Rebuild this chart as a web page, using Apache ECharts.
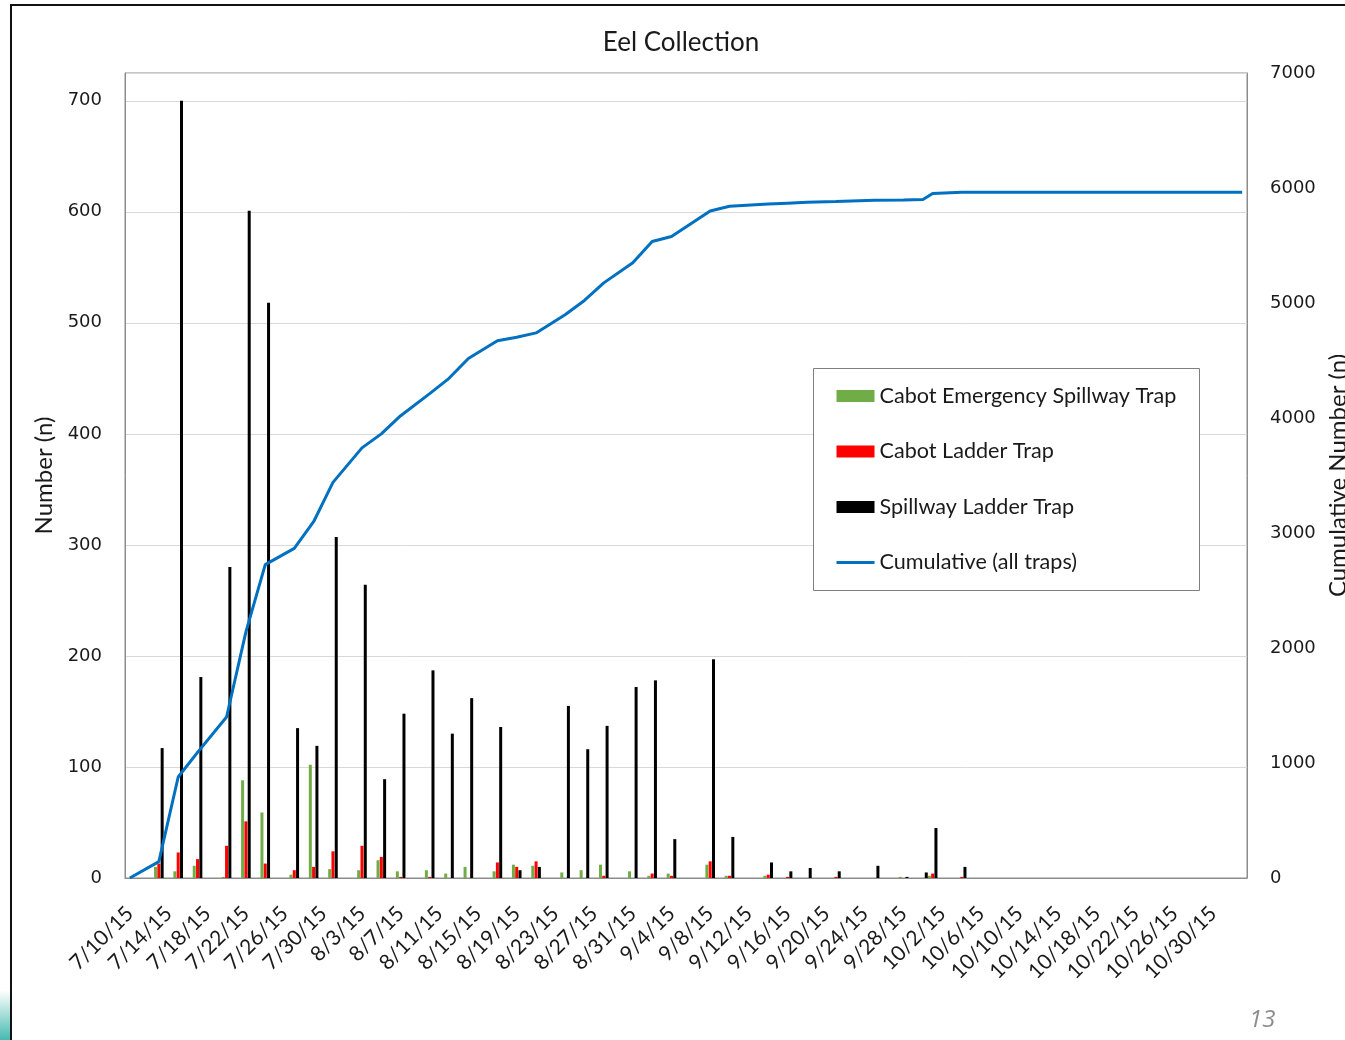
<!DOCTYPE html>
<html>
<head>
<meta charset="utf-8">
<script src="https://cdn.jsdelivr.net/npm/echarts@6/dist/echarts.min.js"></script>
<style>
html,body{margin:0;padding:0;background:#fff;}
#chart{width:1345px;height:1040px;}
</style>
</head>
<body>
<div id="chart"></div>
<script>
// ---- data ----
const axisStart = '2015-07-10';
const axisEnd = '2015-11-02';
const sampleDates = ['7/13/15','7/15/15','7/17/15','7/20/15','7/22/15','7/24/15','7/27/15','7/29/15','7/31/15','8/3/15','8/5/15','8/7/15','8/10/15','8/12/15','8/14/15','8/17/15','8/19/15','8/21/15','8/24/15','8/26/15','8/28/15','8/31/15','9/2/15','9/4/15','9/8/15','9/10/15','9/14/15','9/16/15','9/18/15','9/21/15','9/25/15','9/28/15','9/30/15','10/1/15','10/4/15'];
const emergencySpillway = [10,6,11,1,88,59,3,102,8,7,16,6,7,4,10,6,12,11,5,7,12,6,2,4,12,2,2,0,0,0,0,1,0,2,0];
const cabotLadder = [13,23,17,29,51,13,7,10,24,29,19,1,1,0,0,14,10,15,0,0,2,0,4,2,15,2,3,1,0,1,0,0,0,4,1];
const spillwayLadder = [117,700,181,280,601,518,135,119,307,264,89,148,187,130,162,136,7,10,155,116,137,172,178,35,197,37,14,6,9,6,11,1,5,45,10];
const cumulativeDates = ['7/10/15','7/13/15','7/15/15','7/17/15','7/20/15','7/22/15','7/24/15','7/27/15','7/29/15','7/31/15','8/3/15','8/5/15','8/7/15','8/10/15','8/12/15','8/14/15','8/17/15','8/19/15','8/21/15','8/24/15','8/26/15','8/28/15','8/31/15','9/2/15','9/4/15','9/8/15','9/10/15','9/14/15','9/16/15','9/18/15','9/21/15','9/25/15','9/28/15','9/30/15','10/1/15','10/4/15','11/2/15'];
const cumulative = [0,142,878,1092,1400,2140,2725,2866,3098,3440,3740,3862,4020,4212,4345,4518,4672,4702,4740,4898,5022,5175,5350,5535,5578,5800,5842,5860,5868,5876,5883,5893,5896,5900,5952,5963,5963];
const leftTicks = [0,100,200,300,400,500,600,700];
const rightTicks = [0,1000,2000,3000,4000,5000,6000,7000];

// axis categories: every day in the range
const categories = [];
(function(){
  const d = new Date(axisStart + 'T00:00:00');
  const e = new Date(axisEnd + 'T00:00:00');
  while (d <= e) {
    categories.push((d.getMonth()+1) + '/' + d.getDate() + '/' + String(d.getFullYear()).slice(2));
    d.setDate(d.getDate()+1);
  }
})();
const pair = (dates, vals) => dates.map((dt, i) => [dt, vals[i]]);

const chart = echarts.init(document.getElementById('chart'), null, {renderer:'canvas'});
const labelFont = 'Lato';
chart.setOption({
  animation: false,
  backgroundColor: '#fff',
  title: {
    text: 'Eel Collection', left: 676, top: 25, textAlign: 'center',
    textStyle: {fontFamily: labelFont, fontSize: 26, fontWeight: 'normal', color: '#1a1a1a'}
  },
  grid: {left: 125, right: 98, top: 73, bottom: 162, show: true, borderColor: '#8c8c8c', borderWidth: 1,
    containLabel: false, outerBoundsMode: 'none'},
  legend: {
    orient: 'vertical', left: 835, top: 384, padding: 0, itemGap: 31.5,
    itemWidth: 38, itemHeight: 12,
    textStyle: {fontFamily: labelFont, fontSize: 21.6, lineHeight: 24, color: '#1a1a1a'},
    data: [
      {name: 'Cabot Emergency Spillway Trap', icon: 'rect'},
      {name: 'Cabot Ladder Trap', icon: 'rect'},
      {name: 'Spillway Ladder Trap', icon: 'rect'},
      {name: 'Cumulative (all traps)', itemStyle: {opacity: 0, borderWidth: 0}, lineStyle: {width: 3, color: '#0070c0'}}
    ]
  },
  graphic: [
    {type: 'rect', z: 3, shape: {x: 813.5, y: 368.5, width: 386, height: 222}, style: {fill: '#fff', stroke: '#7f7f7f', lineWidth: 1}},
    {type: 'rect', z: 9, shape: {x: 0, y: 990, width: 10, height: 50},
      style: {fill: new echarts.graphic.LinearGradient(0, 0, 0, 1, [{offset: 0, color: 'rgba(80,190,180,0)'}, {offset: 1, color: '#45b9b0'}])}},
    {type: 'polyline', z: 10, shape: {points: [[11, 1040], [11, 5], [1345, 5]]}, style: {stroke: '#111', lineWidth: 2, fill: null}},
    {type: 'text', z: 10, left: 1249, top: 1008, style: {text: '13', font: 'italic 24px "Open Sans"', fill: '#8c8c8c'}}
  ],
  xAxis: {
    type: 'category', data: categories, boundaryGap: true,
    axisLine: {show: true, lineStyle: {color: '#8c8c8c'}},
    axisTick: {show: false},
    axisLabel: {interval: 3, rotate: 45, margin: 32, fontFamily: labelFont, fontSize: 21, color: '#1a1a1a'},
    splitLine: {show: false}
  },
  yAxis: [
    {
      type: 'value', min: 0, max: 725, interval: 100,
      name: 'Number (n)', nameLocation: 'middle', nameGap: 66, nameRotate: 90,
      nameTextStyle: {fontFamily: labelFont, fontSize: 24, color: '#1a1a1a'},
      axisLine: {show: true, lineStyle: {color: '#8c8c8c'}},
      axisTick: {show: false},
      axisLabel: {margin: 23, fontFamily: 'DejaVu Sans', fontSize: 18, color: '#1a1a1a',
        formatter: v => leftTicks.indexOf(v) >= 0 ? String(v) : ''},
      splitLine: {show: true, lineStyle: {color: '#d9d9d9', width: 1}}
    },
    {
      type: 'value', min: 0, max: 7000, interval: 1000, position: 'right',
      name: 'Cumulative Number (n)', nameLocation: 'middle', nameGap: 78, nameRotate: 90,
      nameTextStyle: {fontFamily: labelFont, fontSize: 24, color: '#1a1a1a'},
      axisLine: {show: true, lineStyle: {color: '#8c8c8c'}},
      axisTick: {show: false},
      axisLabel: {margin: 23, fontFamily: 'DejaVu Sans', fontSize: 18, color: '#1a1a1a',
        formatter: v => rightTicks.indexOf(v) >= 0 ? String(v) : ''},
      splitLine: {show: false}
    }
  ],
  series: [
    {name: 'Cabot Emergency Spillway Trap', type: 'bar', barWidth: 3, barGap: '10%', itemStyle: {color: '#70ad47'}, data: pair(sampleDates, emergencySpillway)},
    {name: 'Cabot Ladder Trap', type: 'bar', barWidth: 3, barGap: '10%', itemStyle: {color: '#ff0000'}, data: pair(sampleDates, cabotLadder)},
    {name: 'Spillway Ladder Trap', type: 'bar', barWidth: 3, barGap: '10%', itemStyle: {color: '#000000'}, data: pair(sampleDates, spillwayLadder)},
    {name: 'Cumulative (all traps)', type: 'line', yAxisIndex: 1, symbol: 'none', z: 5,
      lineStyle: {color: '#0070c0', width: 3}, itemStyle: {color: '#0070c0'},
      data: pair(cumulativeDates, cumulative)}
  ]
});
</script>
</body>
</html>
